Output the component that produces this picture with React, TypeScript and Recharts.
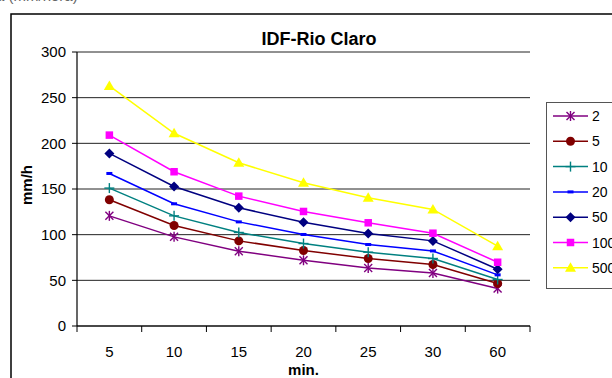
import React from 'react';
import { LineChart, Line, XAxis, YAxis, CartesianGrid, Legend } from 'recharts';

const categories = ['5', '10', '15', '20', '25', '30', '60'];
const yTicks = [0, 50, 100, 150, 200, 250, 300];

const s2 = [120.6, 97.6, 81.9, 72.0, 63.6, 58.1, 41.0];
const s5 = [138.2, 110.0, 93.2, 82.7, 73.9, 67.3, 46.5];
const s10 = [151.0, 120.6, 102.4, 90.3, 80.8, 73.9, 50.9];
const s20 = [167.0, 133.8, 114.0, 100.2, 89.2, 82.2, 56.0];
const s50 = [189.0, 152.8, 129.4, 113.7, 101.3, 93.2, 62.2];
const s100 = [209.0, 168.9, 142.2, 125.4, 113.0, 101.6, 69.8];
const s500 = [262.8, 211.0, 178.7, 156.8, 140.4, 127.6, 87.4];

const seriesList = [
  { key: 'T2', name: '2', values: s2, color: '#800080', shape: 'star' },
  { key: 'T5', name: '5', values: s5, color: '#800000', shape: 'circle' },
  { key: 'T10', name: '10', values: s10, color: '#008080', shape: 'plus' },
  { key: 'T20', name: '20', values: s20, color: '#0000FF', shape: 'dash' },
  { key: 'T50', name: '50', values: s50, color: '#000080', shape: 'diamond' },
  { key: 'T100', name: '100', values: s100, color: '#FF00FF', shape: 'square' },
  { key: 'T500', name: '500', values: s500, color: '#FFFF00', shape: 'triangle' },
];

const data = categories.map((c, i) => {
  const row: any = { cat: c };
  seriesList.forEach((s) => {
    row[s.key] = s.values[i];
  });
  return row;
});

const W = 612;
const H = 378;
const M = { top: 52, right: 82, bottom: 0, left: 0 };
const Y_W = 77;
const X_H = 52;
const plotW = W - M.left - M.right - Y_W;
const band = plotW / categories.length;
const FONT = 'Liberation Sans, Arial, sans-serif';

function Marker({ shape, cx, cy, color }: any) {
  if (cx == null || cy == null) return null;
  switch (shape) {
    case 'star':
      return (
        <g stroke={color} strokeWidth={1.4}>
          <line x1={cx - 4} y1={cy - 4} x2={cx + 4} y2={cy + 4} />
          <line x1={cx - 4} y1={cy + 4} x2={cx + 4} y2={cy - 4} />
          <line x1={cx} y1={cy - 5} x2={cx} y2={cy + 5} />
        </g>
      );
    case 'circle':
      return <circle cx={cx} cy={cy} r={4.5} fill={color} />;
    case 'plus':
      return (
        <g stroke={color} strokeWidth={1.4}>
          <line x1={cx - 5} y1={cy} x2={cx + 5} y2={cy} />
          <line x1={cx} y1={cy - 5} x2={cx} y2={cy + 5} />
        </g>
      );
    case 'dash':
      return <rect x={cx - 3} y={cy - 1.5} width={6} height={3} fill={color} />;
    case 'diamond':
      return <polygon points={`${cx},${cy - 5} ${cx + 5},${cy} ${cx},${cy + 5} ${cx - 5},${cy}`} fill={color} />;
    case 'square':
      return <rect x={cx - 3.75} y={cy - 3.75} width={7.5} height={7.5} fill={color} />;
    case 'triangle':
      return <polygon points={`${cx},${cy - 5.5} ${cx + 5.5},${cy + 4} ${cx - 5.5},${cy + 4}`} fill={color} />;
    default:
      return null;
  }
}

function XTick(props: any) {
  const { x, y, payload, index } = props;
  const axisY = y - 8;
  const left = x - band / 2;
  const right = x + band / 2;
  return (
    <g>
      <line x1={left} y1={axisY} x2={left} y2={axisY + 6} stroke="#000" strokeWidth={1} />
      {index === categories.length - 1 ? (
        <line x1={right} y1={axisY} x2={right} y2={axisY + 6} stroke="#000" strokeWidth={1} />
      ) : null}
      <text x={x} y={y + 23} textAnchor="middle" fontSize={15} fontFamily={FONT} fill="#000">
        {payload.value}
      </text>
    </g>
  );
}

function LegendContent() {
  const rowH = 25.3;
  return (
    <svg width={80} height={187} style={{ display: 'block', overflow: 'visible' }}>
      <rect x={0.5} y={0.5} width={100} height={186} fill="#fff" stroke="#555" strokeWidth={1} />
      {seriesList.map((s, i) => {
        const cy = 14 + i * rowH;
        return (
          <g key={s.key}>
            <line x1={7} y1={cy} x2={42} y2={cy} stroke={s.color} strokeWidth={1.5} />
            <Marker shape={s.shape} cx={24.5} cy={cy} color={s.color} />
            <text x={46} y={cy + 5} fontSize={14} fontFamily={FONT} fill="#000">
              {s.name}
            </text>
          </g>
        );
      })}
    </svg>
  );
}

export default function App() {
  return (
    <div style={{ position: 'absolute', left: 0, top: 0, width: W, height: H, background: '#fff', overflow: 'hidden' }}>
      <svg width={W} height={H} style={{ position: 'absolute', left: 0, top: 0 }}>
        <text x={-4} y={1} fontSize={15} fontFamily={FONT} fill="#666">
          a (mm/hora)
        </text>
        <rect x={11} y={14} width={700} height={500} fill="none" stroke="#000" strokeWidth={1.5} />
        <text x={319} y={45} textAnchor="middle" fontSize={18} fontWeight="bold" fontFamily={FONT} fill="#000">
          IDF-Rio Claro
        </text>
      </svg>
      <div style={{ position: 'absolute', left: 0, top: 0 }}>
        <LineChart width={W} height={H} data={data} margin={M}>
          <CartesianGrid horizontal={true} vertical={false} stroke="#222" strokeWidth={1} />
          <XAxis
            dataKey="cat"
            scale="band"
            height={X_H}
            axisLine={{ stroke: '#000', strokeWidth: 1.2 }}
            tickLine={false}
            tickSize={6}
            tickMargin={2}
            interval={0}
            tick={<XTick />}
            label={{
              content: (p: any) => {
                const vb = p.viewBox || {};
                return (
                  <text x={vb.x + vb.width / 2} y={375} textAnchor="middle" fontSize={15} fontWeight="bold" fontFamily={FONT} fill="#000">
                    min.
                  </text>
                );
              },
            }}
          />
          <YAxis
            domain={[0, 300]}
            ticks={yTicks}
            width={Y_W}
            interval={0}
            axisLine={{ stroke: '#000', strokeWidth: 1.2 }}
            tickLine={{ stroke: '#000' }}
            tickSize={5}
            tickMargin={6}
            tick={{ fontSize: 15, fontFamily: FONT, fill: '#000' }}
            label={{
              content: (p: any) => {
                const vb = p.viewBox || {};
                const cx = 32;
                const cy = vb.y + vb.height / 2 - 4;
                return (
                  <text x={cx} y={cy} transform={`rotate(-90 ${cx} ${cy})`} textAnchor="middle" fontSize={15} fontWeight="bold" fontFamily={FONT} fill="#000">
                    mm/h
                  </text>
                );
              },
            }}
          />
          <YAxis
            yAxisId="right"
            orientation="right"
            domain={[0, 300]}
            width={0}
            tick={false}
            tickLine={false}
            axisLine={{ stroke: '#808080', strokeWidth: 1.2 }}
          />
          <Legend
            layout="vertical"
            align="center"
            verticalAlign="middle"
            content={<LegendContent />}
            wrapperStyle={{ left: 546, top: 102, width: 80, height: 187 }}
          />
          {seriesList.map((s) => (
            <Line
              key={s.key}
              dataKey={s.key}
              name={s.name}
              stroke={s.color}
              strokeWidth={1.5}
              isAnimationActive={false}
              dot={(p: any) => <Marker key={`${s.key}-${p.index}`} shape={s.shape} cx={p.cx} cy={p.cy} color={s.color} />}
              activeDot={false}
            />
          ))}
        </LineChart>
      </div>
    </div>
  );
}
